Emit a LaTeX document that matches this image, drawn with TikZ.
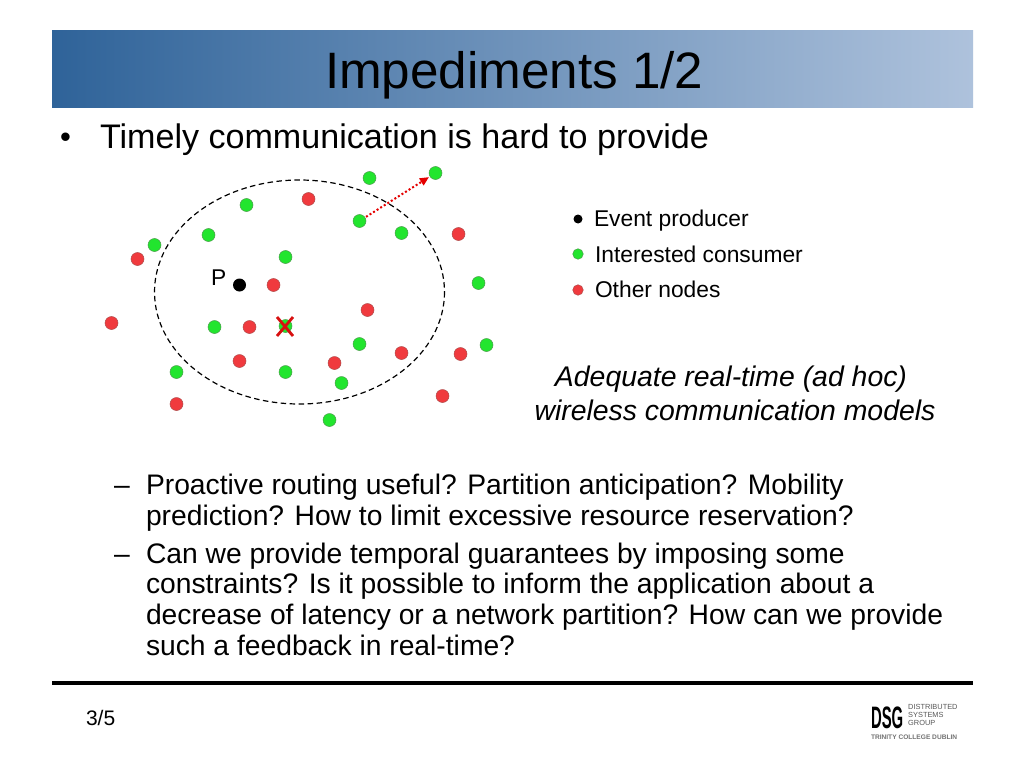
\documentclass[tikz,border=0pt]{standalone}
\usepackage{fontspec}
\setmainfont{Liberation Sans}
\usetikzlibrary{arrows.meta}
\definecolor{gnode}{HTML}{22E52E}
\definecolor{rnode}{HTML}{F03A3E}
\definecolor{xred}{HTML}{D81010}
\definecolor{headA}{HTML}{2F6399}
\definecolor{headB}{HTML}{AEC2DC}
\tikzset{
 txt/.style={anchor=base west,inner sep=0pt,outer sep=0pt,align=left},
 gdot/.style={circle,fill=gnode,draw=green!45!black!70,line width=0.5pt,minimum size=13pt,inner sep=0pt},
 rdot/.style={circle,fill=rnode,draw=red!55!black!70,line width=0.5pt,minimum size=13pt,inner sep=0pt},
 kdot/.style={circle,fill=black,minimum size=13pt,inner sep=0pt},
 lg/.style={gdot,minimum size=10.5pt},
 lr/.style={rdot,minimum size=10.5pt},
 lk/.style={kdot,minimum size=9pt},
}
\newcommand{\fs}[1]{\fontsize{#1}{#1}\selectfont}
\begin{document}
\begin{tikzpicture}[x=1pt,y=-1pt]
\useasboundingbox (0,0) rectangle (1024,768);
\fill[white] (0,0) rectangle (1024,768);
\fill[left color=headA,right color=headB] (52,30.5) rectangle (973,107.5);
\node[txt] (title) at (325,88) {\fs{51.2}Impediments 1/2};
\node[txt] (b0) at (60,147) {\fs{31}•};
\node[txt] (t0) at (100,148) {\fs{34.1}Timely communication is hard to provide};
% ellipse
\draw[line width=1.2pt,dash pattern=on 5.5pt off 3.5pt] (299.5,292) ellipse [x radius=145,y radius=112];
% nodes
\begin{scope}[shift={(0.5,0)}]
\foreach \n/\x/\y in {g1/369/178,g2/435/173,g3/246/205,g4/359/221,g5/401/233,g6/154/245,g7/208/235,g8/285/257,g9/478/283,g10/214/327,g11/285/326,g12/486/345,g13/359/344,g14/176/372,g15/285/372,g16/341/383,g17/329/420}
  \node[gdot] (\n) at (\x,\y) {};
\foreach \n/\x/\y in {r1/308/199,r2/458/234,r3/137/259,r4/273/285,r5/367/310,r6/111/323,r7/249/327,r8/239/361,r9/334/363,r10/401/353,r11/460/354,r12/442/396,r13/176/404}
  \node[rdot] (\n) at (\x,\y) {};
\node[kdot] (p) at (239,285) {};
\end{scope}
\node[txt] (plabel) at (211,285) {\fs{22.8}P};
% cross
\draw[xred,line width=2.8pt] (277,317) -- (293,336) (293,317) -- (277,336);
% arrow
\draw[red!90!black,line width=2pt,dash pattern=on 2pt off 2.2pt,-{Triangle[length=9pt,width=8pt]},shorten >=1pt,shorten <=1pt] (g4) -- (g2);
% legend
\node[lk] (lk) at (578,219) {};
\node[lg] (lg) at (578,254) {};
\node[lr] (lr) at (578,290) {};
\node[txt] (lt1) at (594,226) {\fs{22.8}Event producer};
\node[txt] (lt2) at (595,262) {\fs{22.8}Interested consumer};
\node[txt] (lt3) at (595,297) {\fs{22.8}Other nodes};
% italic
\node[anchor=base,inner sep=0pt] (i1) at (731,386) {\fs{28.4}\itshape Adequate real-time (ad hoc)};
\node[anchor=base,inner sep=0pt] (i2) at (735,420) {\fs{28.4}\itshape wireless communication models};
% sub bullets
\node[txt] (d1) at (114,494) {\fs{28.25}–};
\node[txt] (s1) at (146,494) {\fs{28.25}Proactive routing useful? Partition anticipation? Mobility};
\node[txt] (s2) at (146,525) {\fs{28.25}prediction? How to limit excessive resource reservation?};
\node[txt] (d2) at (114,563) {\fs{28.25}–};
\node[txt] (s3) at (146,563) {\fs{28.25}Can we provide temporal guarantees by imposing some};
\node[txt] (s4) at (146,593) {\fs{28.25}constraints? Is it possible to inform the application about a};
\node[txt] (s5) at (146,624) {\fs{28.25}decrease of latency or a network partition? How can we provide};
\node[txt] (s6) at (146,655) {\fs{28.25}such a feedback in real-time?};
% footer
\fill[black] (52,680.5) rectangle (973,684.5);
\node[txt] (pg) at (86,725) {\fs{21}3/5};
% logo
\node[txt,xscale=0.48] (dsg) at (871,728) {\fs{31}\textbf{DSG}};
\node[anchor=north west,inner sep=0pt,align=left,text=black!65,font=\fontsize{7.4}{8}\selectfont] (l1) at (908,704) {DISTRIBUTED\\SYSTEMS\\GROUP};
\node[txt,text=black!55] (l4) at (871,739) {\fs{6.6}\textbf{TRINITY COLLEGE DUBLIN}};
\end{tikzpicture}
\end{document}
